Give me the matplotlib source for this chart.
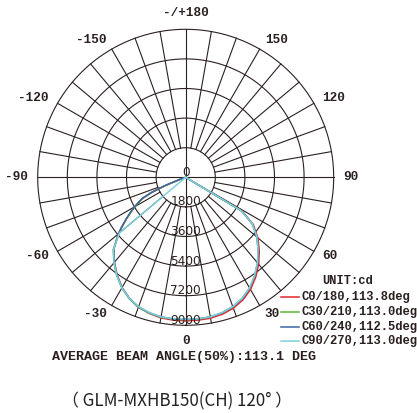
import numpy as np
import matplotlib
matplotlib.use("Agg")
import matplotlib.pyplot as plt

# ---------------- data ----------------
ANGLES = [-90, -71, -70, -68, -66, -64, -61, -58, -55, -52, -50, -45, -40, -35, -30, -25, -20, -15, -10, -5,
          0, 5, 10, 15, 20, 25, 30, 35, 40, 45, 50, 55, 59, 60, 90]
C0_180 = [0, 0, 400, 1400, 2300, 2950, 3400, 3900, 4400, 4950, 5350, 6200, 6740, 7270, 7740, 8120, 8400, 8570, 8680, 8720,
          8730, 8720, 8700, 8620, 8470, 8230, 7880, 7420, 6900, 6330, 5730, 5020, 4020, 0, 0]
C30_210 = [0, 0, 380, 1350, 2250, 2900, 3380, 3880, 4380, 4930, 5320, 6230, 6790, 7310, 7770, 8140, 8410, 8550, 8640, 8660,
           8660, 8650, 8620, 8540, 8380, 8130, 7780, 7320, 6800, 6250, 5650, 4950, 3950, 0, 0]
C60_240 = [0, 0, 420, 1420, 2300, 2950, 3420, 3920, 4420, 4960, 5320, 6180, 6760, 7280, 7740, 8110, 8390, 8530, 8620, 8650,
           8640, 8640, 8620, 8530, 8380, 8140, 7780, 7320, 6800, 6230, 5650, 4950, 3950, 0, 0]
C90_270 = [0, 0, 0, 0, 0, 0, 0, 0, 0, 0, 5250, 6220, 6780, 7300, 7760, 8120, 8370, 8520, 8620, 8640,
           8620, 8640, 8620, 8520, 8370, 8120, 7760, 7300, 6780, 6220, 5650, 4950, 3950, 0, 0]
SERIES = ["C0/180,113.8deg", "C30/210,113.0deg", "C60/240,112.5deg", "C90/270,113.0deg"]
COLORS = ["#e5262b", "#5cb531", "#3a64a8", "#7dd0dc"]
RINGS = [1800, 3600, 5400, 7200, 9000]
RING_LABELS = [0, 1800, 3600, 5400, 7200, 9000]
ANGLE_TICKS = [0, 30, 60, 90, 120, 150, 180, -150, -120, -90, -60, -30]
ANGLE_TEXT = ["0", "30", "60", "90", "120", "150", "-/+180", "-150", "-120", "-90", "-60", "-30"]
UNIT = "UNIT:cd"
AVG_TEXT = "AVERAGE BEAM ANGLE(50%):113.1 DEG"
CAPTION = "（ GLM-MXHB150(CH) 120° ）"

GRID = "#2b2020"
W, H = 417, 413

fig = plt.figure(figsize=(W / 100, H / 100), dpi=100)
cx, cy, R = 185.7, 177.3, 148.0
ax = fig.add_axes([(cx - R) / W, (H - cy - R) / H, 2 * R / W, 2 * R / H], projection="polar")
ax.set_theta_zero_location("S")
ax.set_theta_direction(1)
ax.set_ylim(0, 9000)
ax.grid(False)
ax.set_xticks([])
ax.set_yticks([])
ax.spines["polar"].set_visible(False)

th = np.linspace(0, 2 * np.pi, 721)
for r in RINGS:
    ax.plot(th, np.full_like(th, r), color=GRID, lw=0.8, clip_on=False, zorder=1)
for a in range(0, 360, 10):
    r0 = 0 if a % 90 == 0 else RINGS[0]
    ax.plot([np.deg2rad(a)] * 2, [r0, RINGS[-1]], color=GRID, lw=0.8, clip_on=False, zorder=1)

th_data = np.deg2rad(ANGLES)
for vals, col in zip([C0_180, C30_210, C60_240, C90_270], COLORS):
    ax.plot(th_data, vals, color=col, lw=1.1, zorder=3, clip_on=False)

for v in RING_LABELS:
    ax.annotate(str(v), xy=(0, v), xytext=(0, 5), textcoords="offset pixels",
                ha="center", va="center", fontsize=8.7, color=GRID,
                family="DejaVu Sans", annotation_clip=False, zorder=4)

rl = 158 / R * 9000
for a, t in zip(ANGLE_TICKS, ANGLE_TEXT):
    if a == 0:
        ha, va = "center", "top"
    elif a == 180:
        ha, va = "center", "bottom"
    elif a > 0:
        ha, va = "left", "center"
    else:
        ha, va = "right", "center"
    ax.text(np.deg2rad(a), rl, t, ha=ha, va=va, fontsize=9.2, fontweight="bold",
            family="Liberation Mono", color=GRID, clip_on=False)

mono = dict(family="Liberation Mono", fontweight="bold", color=GRID)
fig.text(322 / W, 1 - 281 / H, UNIT, fontsize=8.7, ha="left", va="center", **mono)
ys = [297.3, 311.7, 326.7, 341.0]
for s, col, y in zip(SERIES, COLORS, ys):
    fig.add_artist(plt.Line2D([281 / W, 299 / W], [1 - y / H] * 2, color=col, lw=1.1))
    fig.text(302 / W, 1 - y / H, s, fontsize=8.7, ha="left", va="center", **mono)
fig.text(52 / W, 1 - 357 / H, AVG_TEXT, fontsize=9.65, ha="left", va="center", **mono)
fig.text(177 / W, 1 - 401.7 / H, CAPTION, fontsize=12.2, ha="center", va="center",
         family=["Noto Sans CJK SC", "DejaVu Sans"], color="#222222")

fig.savefig("out.png", dpi=100)
